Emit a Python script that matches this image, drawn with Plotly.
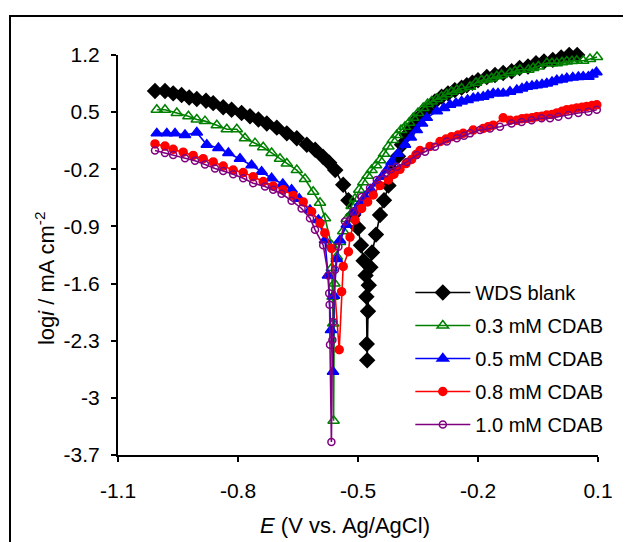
import plotly.graph_objects as go

# ---------------- data ----------------
series_names = ["WDS blank", "0.3 mM CDAB", "0.5 mM CDAB", "0.8 mM CDAB", "1.0 mM CDAB"]

E_blank = [-1.0075, -0.9825, -0.962, -0.941, -0.922, -0.903, -0.88, -0.862, -0.837, -0.816,
           -0.791, -0.77, -0.749, -0.728, -0.703, -0.678, -0.653, -0.628, -0.607, -0.587,
           -0.572, -0.557, -0.537, -0.524, -0.512, -0.50, -0.4925, -0.486, -0.481, -0.479,
           -0.478, -0.477, -0.475, -0.473, -0.469, -0.465, -0.455, -0.445, -0.435, -0.424,
           -0.412, -0.40, -0.39, -0.378, -0.366, -0.355, -0.345, -0.328, -0.3075, -0.291,
           -0.275, -0.258, -0.241, -0.228, -0.214, -0.20, -0.178, -0.1575, -0.137, -0.116,
           -0.096, -0.075, -0.055, -0.035, -0.013, 0.008, 0.028, 0.048, 0.068, 0.0875, 0.097]
logi_blank = [0.76, 0.76, 0.73, 0.71, 0.68, 0.66, 0.64, 0.61, 0.56, 0.53,
              0.49, 0.45, 0.41, 0.36, 0.31, 0.24, 0.18, 0.10, 0.04, -0.05,
              -0.12, -0.21, -0.39, -0.58, -0.76, -0.92, -1.13, -1.32, -1.50, -1.76,
              -2.34, -2.54, -1.94, -1.62, -1.40, -1.22, -1.00, -0.76, -0.58, -0.40,
              -0.22, -0.04, 0.10, 0.22, 0.32, 0.40, 0.45, 0.53, 0.63, 0.69,
              0.73, 0.77, 0.80, 0.83, 0.86, 0.89, 0.93, 0.955, 0.98, 1.00,
              1.04, 1.06, 1.10, 1.12, 1.14, 1.17, 1.20, 1.20, 1.22, 1.23, 1.23]

E_03 = [-1.003, -0.9825, -0.953, -0.924, -0.903, -0.8825, -0.853, -0.828, -0.803, -0.7825,
        -0.7575, -0.737, -0.716, -0.695, -0.678, -0.653, -0.6325, -0.612, -0.595, -0.5825,
        -0.566, -0.5655, -0.5635, -0.562, -0.561, -0.559, -0.553, -0.545, -0.537, -0.528,
        -0.516, -0.5075, -0.497, -0.487, -0.476, -0.466, -0.455, -0.445, -0.435, -0.424,
        -0.413, -0.403, -0.3925, -0.3825, -0.372, -0.362, -0.35, -0.337, -0.326, -0.316,
        -0.303, -0.291, -0.278, -0.266, -0.253, -0.241, -0.22, -0.205, -0.191, -0.178,
        -0.166, -0.153, -0.141, -0.12, -0.107, -0.095, -0.074, -0.062, -0.049, -0.028,
        -0.015, -0.003, 0.01, 0.022, 0.035, 0.047, 0.063, 0.08, 0.0975]
logi_03 = [0.53, 0.53, 0.49, 0.45, 0.41, 0.39, 0.34, 0.29, 0.29, 0.18,
           0.12, 0.07, 0.00, -0.07, -0.13, -0.21, -0.32, -0.475, -0.61, -0.80,
           -1.13, -1.41, -1.76, -2.09, -3.28, -1.60, -1.27, -1.09, -0.96, -0.81,
           -0.65, -0.56, -0.45, -0.36, -0.28, -0.21, -0.15, -0.09, -0.01, 0.08,
           0.16, 0.22, 0.28, 0.32, 0.37, 0.43, 0.49, 0.55, 0.60, 0.63,
           0.66, 0.69, 0.72, 0.75, 0.77, 0.79, 0.81, 0.86, 0.89, 0.90,
           0.915, 0.94, 0.955, 0.98, 1.00, 1.02, 1.02, 1.04, 1.06, 1.10,
           1.10, 1.10, 1.11, 1.12, 1.125, 1.13, 1.13, 1.15, 1.175]

E_05 = [-1.003, -0.978, -0.9575, -0.9325, -0.903, -0.878, -0.849, -0.824, -0.795, -0.766,
        -0.741, -0.716, -0.688, -0.666, -0.647, -0.62, -0.599, -0.5825, -0.575, -0.5675,
        -0.5625, -0.56, -0.553, -0.545, -0.528, -0.5075, -0.495, -0.4825, -0.468, -0.453,
        -0.44, -0.428, -0.416, -0.40, -0.3825, -0.368, -0.353, -0.34, -0.328, -0.303,
        -0.285, -0.27, -0.255, -0.241, -0.226, -0.212, -0.20, -0.187, -0.175, -0.162,
        -0.15, -0.137, -0.12, -0.103, -0.09, -0.078, -0.065, -0.053, -0.04, -0.028,
        -0.015, -0.003, 0.01, 0.022, 0.037, 0.051, 0.063, 0.076, 0.086, 0.096]
logi_05 = [0.24, 0.24, 0.24, 0.22, 0.25, 0.10, 0.06, 0.00, -0.07, -0.15,
           -0.23, -0.31, -0.38, -0.45, -0.56, -0.70, -0.82, -1.07, -1.50, -2.17,
           -2.68, -1.75, -1.30, -1.07, -0.88, -0.72, -0.62, -0.54, -0.45, -0.37,
           -0.29, -0.21, -0.11, -0.01, 0.10, 0.19, 0.28, 0.36, 0.43, 0.51,
           0.55, 0.59, 0.61, 0.63, 0.65, 0.67, 0.68, 0.69, 0.71, 0.73,
           0.73, 0.73, 0.75, 0.77, 0.79, 0.81, 0.82, 0.83, 0.84, 0.85,
           0.87, 0.89, 0.90, 0.915, 0.925, 0.93, 0.935, 0.935, 0.96, 0.99]

E_08 = [-1.0075, -0.9825, -0.962, -0.937, -0.912, -0.887, -0.862, -0.837, -0.812, -0.787,
        -0.762, -0.737, -0.712, -0.687, -0.662, -0.637, -0.616, -0.595, -0.583, -0.566,
        -0.547, -0.541, -0.537, -0.524, -0.52, -0.5075, -0.491, -0.476, -0.462, -0.445,
        -0.424, -0.41, -0.395, -0.38, -0.366, -0.355, -0.345, -0.32, -0.295, -0.28,
        -0.266, -0.25, -0.237, -0.212, -0.187, -0.175, -0.162, -0.137, -0.12, -0.103,
        -0.09, -0.078, -0.065, -0.053, -0.04, -0.028, -0.015, -0.003, 0.01, 0.022,
        0.035, 0.047, 0.06, 0.072, 0.085, 0.097]
logi_08 = [0.11, 0.085, 0.045, 0.01, -0.03, -0.07, -0.11, -0.16, -0.21, -0.24,
           -0.29, -0.35, -0.405, -0.45, -0.52, -0.60, -0.72, -0.86, -0.98, -1.17,
           -2.41, -1.70, -1.39, -1.21, -1.03, -0.82, -0.68, -0.60, -0.515, -0.40,
           -0.33, -0.26, -0.20, -0.13, -0.08, -0.02, 0.03, 0.08, 0.14, 0.17,
           0.20, 0.22, 0.24, 0.28, 0.30, 0.32, 0.34, 0.43, 0.40, 0.40,
           0.42, 0.425, 0.43, 0.445, 0.45, 0.465, 0.47, 0.49, 0.51, 0.53,
           0.54, 0.55, 0.56, 0.57, 0.58, 0.59]

E_10 = [-1.0075, -0.9825, -0.962, -0.9325, -0.9075, -0.8825, -0.8575, -0.837, -0.812, -0.787,
        -0.762, -0.7325, -0.712, -0.691, -0.666, -0.641, -0.62, -0.6075, -0.587, -0.574,
        -0.572, -0.571, -0.57, -0.5665, -0.564, -0.562, -0.5575, -0.549, -0.5325, -0.512,
        -0.491, -0.47, -0.453, -0.4325, -0.418, -0.403, -0.378, -0.353, -0.3325, -0.3075,
        -0.278, -0.253, -0.235, -0.22, -0.195, -0.17, -0.145, -0.116, -0.091, -0.066,
        -0.041, -0.02, 0.001, 0.026, 0.051, 0.076, 0.097]
logi_10 = [0.03, 0.00, -0.025, -0.066, -0.095, -0.14, -0.19, -0.22, -0.26, -0.31,
           -0.37, -0.41, -0.45, -0.50, -0.585, -0.68, -0.80, -0.94, -1.13, -1.50,
           -1.72, -1.86, -2.35, -3.54, -2.29, -2.07, -1.43, -1.15, -0.84, -0.72,
           -0.54, -0.43, -0.33, -0.25, -0.20, -0.17, -0.11, -0.025, 0.015, 0.077,
           0.14, 0.18, 0.21, 0.24, 0.28, 0.30, 0.32, 0.36, 0.38, 0.40,
           0.425, 0.425, 0.445, 0.465, 0.49, 0.505, 0.53]

x_ticks = [-1.1, -0.8, -0.5, -0.2, 0.1]
x_tick_labels = ["-1.1", "-0.8", "-0.5", "-0.2", "0.1"]
y_ticks = [1.2, 0.5, -0.2, -0.9, -1.6, -2.3, -3.0, -3.7]
y_tick_labels = ["1.2", "0.5", "-0.2", "-0.9", "-1.6", "-2.3", "-3", "-3.7"]

# ---------------- styles ----------------
FONT = "Arial, 'Liberation Sans', sans-serif"
FS = 20        # legend
FS_TICK = 21   # tick labels
FS_TITLE = 22  # axis titles
styles = [
    dict(color="#000000", symbol="diamond", size=11, lw=1.6),
    dict(color="#008000", symbol="triangle-up-open", size=10, lw=1.6),
    dict(color="#0000FF", symbol="triangle-up", size=10, lw=1.6),
    dict(color="#FF0000", symbol="circle", size=8, lw=1.6),
    dict(color="#800080", symbol="circle-open", size=7, lw=1.6),
]
xs = [E_blank, E_03, E_05, E_08, E_10]
ys = [logi_blank, logi_03, logi_05, logi_08, logi_10]

fig = go.Figure()
for i, (name, x, y, st) in enumerate(zip(series_names, xs, ys, styles)):
    fig.add_trace(go.Scatter(
        x=x, y=y, name=name, mode="lines+markers", legendgroup=f"g{i}",
        line=dict(color=st["color"], width=st["lw"]),
        marker=dict(symbol=st["symbol"], size=st["size"], color=st["color"],
                    line=dict(color=st["color"], width=1.5)),
        cliponaxis=False,
    ))

fig.update_layout(
    width=623, height=534,
    margin=dict(l=110, r=33, t=47, b=87),
    paper_bgcolor="white", plot_bgcolor="white",
    font=dict(family=FONT, size=FS, color="black"),
    showlegend=True,
    legend=dict(x=0.609, y=0.455, xanchor="left", yanchor="top",
                bgcolor="rgba(0,0,0,0)", borderwidth=0,
                font=dict(family=FONT, size=FS, color="black"),
                itemwidth=55, tracegroupgap=4),
    xaxis=dict(range=[-1.1, 0.1], tickmode="array", tickvals=x_ticks, ticktext=x_tick_labels,
               showline=True, linecolor="black", linewidth=2, ticks="outside",
               ticklen=5, tickcolor="black", tickwidth=1.5, showgrid=False, zeroline=False,
               tickfont=dict(family=FONT, size=FS_TICK, color="black"), ticklabelstandoff=11),
    yaxis=dict(range=[-3.7, 1.2], tickmode="array", tickvals=y_ticks, ticktext=y_tick_labels,
               showline=True, linecolor="black", linewidth=2, ticks="outside",
               ticklen=5, tickcolor="black", tickwidth=1.5, showgrid=False, zeroline=False,
               tickfont=dict(family=FONT, size=FS_TICK, color="black"), ticklabelstandoff=7),
    annotations=[
        dict(text="log<i>i</i> / mA cm<sup>-2</sup>", xref="paper", yref="paper",
             x=-0.152, y=0.4425, textangle=-90, showarrow=False,
             xanchor="center", yanchor="middle",
             font=dict(family=FONT, size=FS_TITLE, color="black")),
        dict(text="<i>E</i> (V vs. Ag/AgCl)", xref="paper", yref="paper",
             x=0.473, y=-0.175, showarrow=False, xanchor="center", yanchor="middle",
             font=dict(family=FONT, size=FS_TITLE, color="black")),
    ],
    shapes=[dict(type="rect", xref="paper", yref="paper",
                 x0=-0.225, x1=1.0875, y0=-0.2625, y1=1.0975,
                 line=dict(color="black", width=2), layer="below")],
)

fig.write_html("out.html")
